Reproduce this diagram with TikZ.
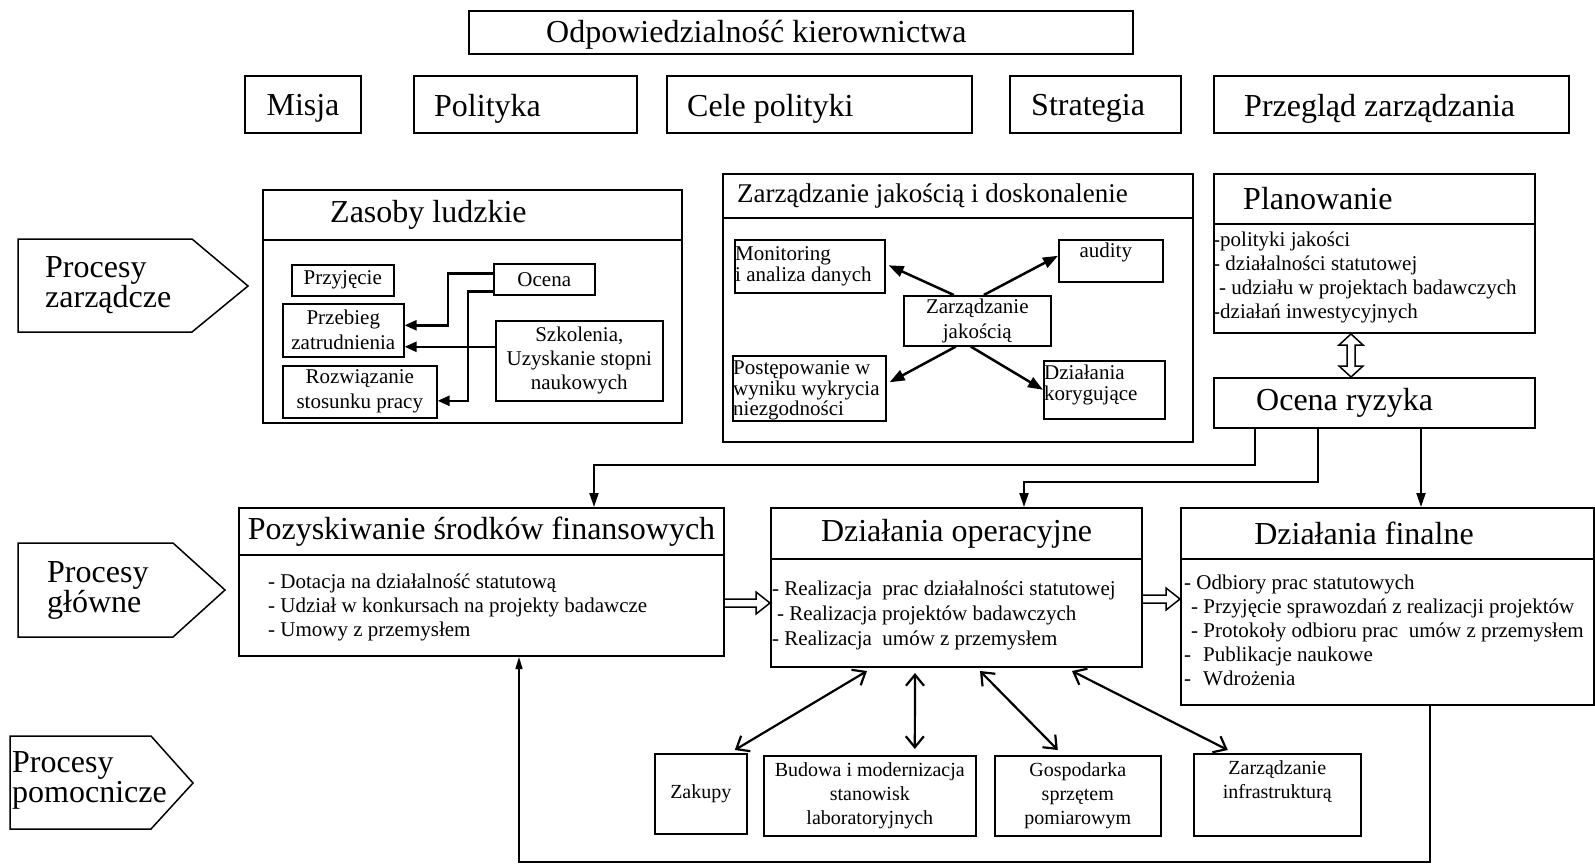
\documentclass[tikz,border=0pt]{standalone}
\usepackage{fontspec}
\setmainfont{Liberation Serif}
\usetikzlibrary{arrows.meta,calc}
\newcommand\fBig{\fontsize{32}{30}\selectfont}
\newcommand\fMid{\fontsize{27}{30}\selectfont}
\newcommand\fSm{\fontsize{21}{24}\selectfont}
\newcommand\fSmM{\fontsize{21}{25}\selectfont}
\newcommand\fSmT{\fontsize{21}{20.5}\selectfont}
\newcommand\fBot{\fontsize{20}{24}\selectfont}
\newcommand\mkbox[7]{\node[bx,minimum width={#4-#2},minimum height={#5-#3},#6] (#1) at (#2,#3) {#7};}
\newcommand\blockH[2]{\draw[line width=1.5pt,fill=white] ($(#1)+(0,-4)$) -- ($(#2)+(-14,-4)$) -- ($(#2)+(-14,-11)$) -- (#2) -- ($(#2)+(-14,11)$) -- ($(#2)+(-14,4)$) -- ($(#1)+(0,4)$);}
\begin{document}
\begin{tikzpicture}[x=1pt,y=-1pt,
  bx/.style={draw,line width=2pt,inner sep=0pt,anchor=north west,align=center},
  lw/.style={line width=1.6pt},
  txt/.style={inner sep=0pt,align=left},
  arr/.style={line width=2.5pt,-{Triangle[length=15pt,width=11pt]}},
  arrS/.style={line width=2.5pt,-{Triangle[length=12pt,width=10pt]}},
  oarr/.style={line width=2pt,-{Triangle[length=14pt,width=9pt]}},
  larr/.style={line width=1.5pt,-{Triangle[length=12pt,width=7pt]}},
  darr/.style={line width=2.2pt,{Straight Barb[length=11pt,width=18pt]}-{Straight Barb[length=11pt,width=18pt]}},
  pent/.style={line width=1.5pt}]
\useasboundingbox (0,0) rectangle (1595,867);
\fill[white] (0,0) rectangle (1595,867);

% Row 1
\mkbox{odp}{468}{10}{1132}{53}{}{}
\node[txt,anchor=west,font=\fBig] (odpT) at ($(odp.west)+(78,2)$) {Odpowiedzialność kierownictwa};

% Row 2
\mkbox{misja}{244}{75}{360}{132}{}{}
\node[txt,font=\fBig] (misjaT) at ($(misja.center)+(0,4)$) {Misja};
\mkbox{pol}{413}{75}{636}{132}{}{}
\node[txt,anchor=west,font=\fBig] (polT) at ($(pol.west)+(21,4)$) {Polityka};
\mkbox{cele}{666}{75}{971}{132}{}{}
\node[txt,anchor=west,font=\fBig] (celeT) at ($(cele.west)+(21,4)$) {Cele polityki};
\mkbox{strat}{1009}{75}{1180}{132}{}{}
\node[txt,anchor=west,font=\fBig] (stratT) at ($(strat.west)+(22,4)$) {Strategia};
\mkbox{przeg}{1213}{75}{1568}{132}{}{}
\node[txt,anchor=west,font=\fBig] (przegT) at ($(przeg.west)+(31,4)$) {Przegląd zarządzania};

% Pentagons
\draw[pent] (18,239) -- (192,239) -- (248,286) -- (192,332) -- (18,332) -- cycle;
\node[txt,anchor=west,font=\fBig] (pzarz) at (45,285) {Procesy\\zarządcze};
\draw[pent] (18,543) -- (173,543) -- (225,590) -- (173,637) -- (18,637) -- cycle;
\node[txt,anchor=west,font=\fBig] (pglow) at (47,590) {Procesy\\główne};
\draw[pent] (10,736) -- (151,736) -- (193,783) -- (151,829) -- (10,829) -- cycle;
\node[txt,anchor=west,font=\fBig] (ppom) at (12,780) {Procesy\\pomocnicze};

% Zasoby ludzkie
\mkbox{zlh}{262}{189}{681}{239}{}{}
\mkbox{zlb}{262}{239}{681}{422}{}{}
\node[txt,anchor=west,font=\fBig] (zlT) at ($(zlh.west)+(68,0)$) {Zasoby ludzkie};
\mkbox{przyj}{291}{264}{393}{295}{lw,font=\fSm}{Przyjęcie}
\mkbox{przeb}{282}{303}{403}{356}{lw,font=\fSmM}{Przebieg\\zatrudnienia}
\mkbox{rozw}{282}{365}{436}{417}{lw,font=\fSmM}{Rozwiązanie\\stosunku pracy}
\mkbox{ocena}{493}{263}{594}{294}{lw,font=\fSm}{Ocena}
\mkbox{szk}{495}{320}{662}{400}{lw,font=\fSm}{Szkolenia,\\Uzyskanie stopni\\naukowych}
\draw[arrS] ($(ocena.west)+(0,-6)$) -- ++(-45,0) |- ($(przeb.east)+(0,-5)$);
\draw[arrS] ($(ocena.west)+(0,12)$) -- ++(-25,0) |- ($(rozw.east)+(0,9)$);
\coordinate (s3) at ($(szk.west)+(0,-14)$);
\draw[arrS] (s3) -- (s3 -| przeb.east);

% Zarzadzanie jakoscia
\mkbox{zjh}{722}{173}{1192}{217}{}{}
\mkbox{zjb}{722}{217}{1192}{441}{}{}
\node[txt,anchor=west,font=\fMid] (zjT) at ($(zjh.west)+(15,0)$) {Zarządzanie jakością i doskonalenie};
\mkbox{mon}{734}{239}{884}{292}{lw}{}
\node[txt,anchor=west,font=\fSmT] (monT) at ($(mon.west)+(1,0)$) {Monitoring\\i analiza danych};
\mkbox{aud}{1058}{239}{1162}{281}{lw}{}
\node[txt,font=\fSm] (audT) at ($(aud.north)+(-5,13)$) {audity};
\mkbox{zj}{903}{295}{1050}{345}{lw,font=\fSmM}{Zarządzanie\\jakością}
\mkbox{post}{732}{355}{885}{420}{lw}{}
\node[txt,anchor=west,font=\fSmT] (postT) at ($(post.west)+(1,2.5)$) {Postępowanie w\\wyniku wykrycia\\niezgodności};
\mkbox{dk}{1043}{360}{1164}{418}{lw}{}
\node[txt,anchor=west,font=\fSmT] (dkT) at ($(dk.west)+(1,-5)$) {Działania\\korygujące};
\draw[arr] ($(zj.north)+(-23.5,0)$) -- ($(mon.east)+(3,-1)$);
\draw[arr] ($(zj.north)+(6.5,0)$) -- ($(aud.west)+(0,-5)$);
\draw[arr] ($(zj.south)+(-21.5,0)$) -- ($(post.east)+(3,-6)$);
\draw[arr] ($(zj.south)+(-6.5,0)$) -- (dk.west);

% Planowanie
\mkbox{plh}{1213}{173}{1534}{223}{}{}
\mkbox{plb}{1213}{223}{1534}{332}{}{}
\node[txt,anchor=west,font=\fBig] (plT) at ($(plh.west)+(30,0)$) {Planowanie};
\node[txt,anchor=west,font=\fSm] (plL) at ($(plb.west)+(0,-1.5)$) {-polityki jakości\\- działalności statutowej\\\hspace*{6pt}- udziału w projektach badawczych\\-działań inwestycyjnych};
\mkbox{or}{1213}{377}{1534}{427}{}{}
\node[txt,anchor=west,font=\fBig] (orT) at ($(or.west)+(43,0)$) {Ocena ryzyka};
\coordinate (v1) at ($(plb.south)+(-23.5,0)$);
\coordinate (v2) at (v1 |- or.north);
\draw[line width=1.5pt,fill=white] (v1) -- ++(12,11) -- ++(-8,0) |- ($(v2)+(4,-11)$) -- ++(8,0) -- (v2) -- ++(-12,-11) -- ++(8,0) |- ($(v1)+(-4,11)$) -- ++(-8,0) -- cycle;

% Row 3
\mkbox{pzh}{238}{507}{723}{554}{font=\fBig}{Pozyskiwanie środków finansowych}
\mkbox{pzb}{238}{554}{723}{655}{}{}
\node[txt,anchor=west,font=\fSm] (pzL) at ($(pzb.west)+(30,2)$) {- Dotacja na działalność statutową\\- Udział w konkursach na projekty badawcze\\- Umowy z przemysłem};
\mkbox{oph}{770}{507}{1141}{558}{font=\fBig}{Działania operacyjne}
\mkbox{opb}{770}{558}{1141}{666}{}{}
\node[txt,anchor=west,font=\fSmM] (opL) at ($(opb.west)+(2,2)$) {- Realizacja\ \ prac działalności statutowej\\\hspace*{5pt}- Realizacja projektów badawczych\\- Realizacja\ \ umów z przemysłem};
\mkbox{finh}{1180}{507}{1593}{558}{}{}
\mkbox{finb}{1180}{558}{1593}{704}{}{}
\node[txt,font=\fBig] (finT) at ($(finh.center)+(-23.5,0)$) {Działania finalne};
\node[txt,anchor=west,font=\fSm] (finL) at ($(finb.west)+(4,-1.5)$) {- Odbiory prac statutowych\\\hspace*{7pt}- Przyjęcie sprawozdań z realizacji projektów\\\hspace*{7pt}- Protokoły odbioru prac\ \ umów z przemysłem\\-\hspace*{12pt}Publikacje naukowe\\-\hspace*{12pt}Wdrożenia};

% Ocena ryzyka connectors
\coordinate (a1) at ($(or.south)+(-119.5,0)$);
\coordinate (a2) at ($(pzh.north)+(112.5,0)$);
\draw[oarr] (a1) -- ++(0,36) -| (a2);
\coordinate (b1) at ($(or.south)+(-56.5,0)$);
\coordinate (b2) at ($(oph.north)+(67.5,0)$);
\draw[oarr] (b1) -- ++(0,53) -| (b2);
\coordinate (c1) at ($(or.south)+(46.5,0)$);
\draw[oarr] (c1) -- (c1 |- finh.north);

% Block arrows between main processes
\coordinate (p1) at ($(pzb.east)+(0,-2.5)$);
\coordinate (p2) at (p1 -| opb.west);
\blockH{p1}{p2}
\coordinate (q1) at ($(opb.east)+(0,-14)$);
\coordinate (q2) at (q1 -| finb.west);
\blockH{q1}{q2}

% Bottom boxes
\mkbox{zak}{654}{753}{746}{833}{lw,font=\fBot}{Zakupy}
\mkbox{bud}{763}{755}{975}{835}{lw,font=\fBot}{Budowa i modernizacja\\stanowisk\\laboratoryjnych}
\mkbox{gosp}{994}{755}{1160}{835}{lw,font=\fBot}{Gospodarka\\sprzętem\\pomiarowym}
\mkbox{infra}{1193}{753}{1360}{835}{lw}{}
\node[txt,align=center,font=\fBot] (infraT) at ($(infra.north)+(0,29)$) {Zarządzanie\\infrastrukturą};
\draw[darr] ($(opb.south)+(-89.5,3)$) -- ($(zak.north)+(34,-3)$);
\draw[darr] ($(opb.south)+(-41.5,5)$) -- ($(bud.north)+(45,-6)$);
\draw[darr] ($(opb.south)+(23.5,3)$) -- ($(gosp.north)+(-20,-5)$);
\draw[darr] ($(opb.south)+(115.5,3)$) -- ($(infra.north)+(-49.5,-3)$);

% Feedback loop
\coordinate (l1) at ($(finb.south)+(42.5,0)$);
\coordinate (l2) at ($(pzb.south)+(37.5,0)$);
\draw[larr] (l1) -- ++(0,156) -| (l2);
\end{tikzpicture}
\end{document}
